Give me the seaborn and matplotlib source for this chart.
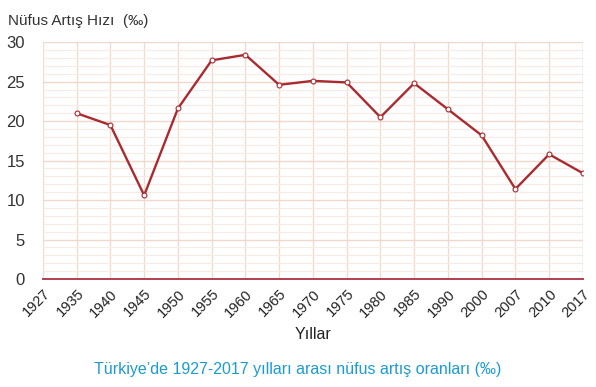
import pandas as pd
import matplotlib.pyplot as plt
import seaborn as sns
from matplotlib.ticker import MultipleLocator

# Tick labels on the x axis (categorical, equally spaced)
year_labels = ['1927', '1935', '1940', '1945', '1950', '1955', '1960', '1965',
               '1970', '1975', '1980', '1985', '1990', '2000', '2007', '2010', '2017']
# Years with a value and the values themselves (per mille)
years = ['1935', '1940', '1945', '1950', '1955', '1960', '1965', '1970',
         '1975', '1980', '1985', '1990', '2000', '2007', '2010', '2017']
rates = [21.0, 19.5, 10.6, 21.6, 27.7, 28.4, 24.6, 25.1,
         24.9, 20.5, 24.8, 21.5, 18.2, 11.4, 15.8, 13.4]

df = pd.DataFrame({'year': years, 'rate': rates})
df['pos'] = [year_labels.index(y) for y in df['year']]

sns.set_style('white')
plt.rcParams['font.family'] = ['Liberation Sans', 'DejaVu Sans']

fig = plt.figure(figsize=(5.96, 3.87), dpi=100)
ax = fig.add_axes([0.072, 0.279, 0.906, 0.612])

line_color = '#a92a2f'
sns.lineplot(data=df, x='pos', y='rate', ax=ax, color=line_color, linewidth=1.7,
             marker='o', markersize=3.5, markerfacecolor='white',
             markeredgecolor=line_color, markeredgewidth=0.8, zorder=3)

ax.set_xlim(0, len(year_labels) - 1)
ax.set_ylim(0, 30)
ax.set_xticks(range(len(year_labels)))
ax.set_xticklabels(year_labels, rotation=45, ha='right', rotation_mode='anchor',
                   fontsize=10.5, color='#222222')
ax.yaxis.set_major_locator(MultipleLocator(5))
ax.yaxis.set_minor_locator(MultipleLocator(1))
ax.tick_params(axis='y', labelsize=12, labelcolor='#333333', length=0, pad=13)
ax.tick_params(axis='x', length=5, direction='inout', color='#b04050', width=1, pad=3)

ax.grid(axis='x', which='major', color='#f0dccf', linewidth=1)
ax.grid(axis='y', which='major', color='#f0d8cc', linewidth=1)
ax.grid(axis='y', which='minor', color='#f8ebe6', linewidth=0.8)
ax.set_axisbelow(True)

for side in ['top', 'right', 'left']:
    ax.spines[side].set_visible(False)
ax.axvline(len(year_labels) - 1, color='#f0dccf', linewidth=1, zorder=0)
ax.spines['bottom'].set_color('#b04050')
ax.spines['bottom'].set_linewidth(1.4)

ax.set_xlabel('Yıllar', fontsize=11.5, color='#222222', labelpad=5)
ax.set_ylabel('')

fig.text(0.013, 0.945, 'Nüfus Artış Hızı  (‰)', fontsize=11, color='#333333',
         ha='left', va='center')
fig.text(0.5, 0.044, 'Türkiye’de 1927-2017 yılları arası nüfus artış oranları (‰)',
         fontsize=11.5, color='#1b9bd1', ha='center', va='center')

fig.savefig('out.png', dpi=100)
